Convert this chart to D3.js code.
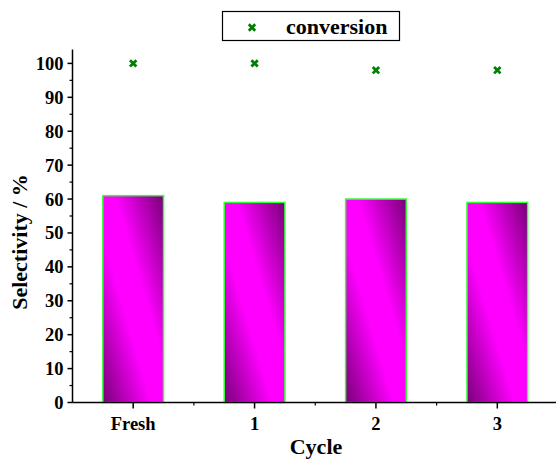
<!DOCTYPE html>
<html>
<head>
<meta charset="utf-8">
<script src="https://cdn.jsdelivr.net/npm/d3@7"></script>
<style>
  html, body { margin: 0; padding: 0; background: #fff; }
  svg { display: block; font-family: "Liberation Serif", "Times New Roman", serif; font-weight: bold; }
</style>
</head>
<body>
<svg id="chart" width="556" height="459"></svg>
<script>
// Catalyst recycling: selectivity bars and conversion markers per cycle
const categories = ["Fresh", "1", "2", "3"];
const selectivity = [61, 59, 60, 59];
const conversion = [100, 100, 98, 98];
const yTicks = [0, 10, 20, 30, 40, 50, 60, 70, 80, 90, 100];
const yMinorTicks = [5, 15, 25, 35, 45, 55, 65, 75, 85, 95];

const svg = d3.select("#chart");

const x = d3.scaleBand().domain(categories).range([72.5, 558]).padding(0);
const y = d3.scaleLinear().domain([0, 104.1]).range([402.5, 49.5]);

// bar fill: diagonal purple-magenta-purple gradient
const defs = svg.append("defs");
const grad = defs.append("linearGradient")
  .attr("id", "barGrad")
  .attr("x1", 0).attr("y1", 1).attr("x2", 1).attr("y2", 0);
[[0, "#780078"], [0.4, "#ff00ff"], [0.6, "#ff00ff"], [1, "#780078"]].forEach(([o, c]) =>
  grad.append("stop").attr("offset", o).attr("stop-color", c));

// bars
const bw = x.bandwidth() * 0.5;
svg.append("g").selectAll("rect")
  .data(categories)
  .join("rect")
  .attr("x", (d) => x(d) + (x.bandwidth() - bw) / 2)
  .attr("y", (d, i) => y(selectivity[i]))
  .attr("width", bw)
  .attr("height", (d, i) => y(0) - y(selectivity[i]))
  .attr("fill", "url(#barGrad)")
  .attr("stroke", "#33ff33")
  .attr("stroke-width", 1.5);

// conversion markers (bold x)
const cross = (cx, cy, s) => `M${cx - s},${cy - s}L${cx + s},${cy + s}M${cx - s},${cy + s}L${cx + s},${cy - s}`;
svg.append("g").selectAll("path")
  .data(categories)
  .join("path")
  .attr("d", (d, i) => cross(x(d) + x.bandwidth() / 2, y(conversion[i]), 3.2))
  .attr("stroke", "#008000")
  .attr("stroke-width", 2.8)
  .attr("fill", "none");

// y axis
const yAxis = svg.append("g").attr("transform", "translate(72.5,0)");
yAxis.append("line").attr("x1", 0).attr("x2", 0).attr("y1", y.range()[1]).attr("y2", y(0))
  .attr("stroke", "#000").attr("stroke-width", 1.5);
yAxis.selectAll("line.major").data(yTicks).join("line").attr("class", "major")
  .attr("x1", -5).attr("x2", 0).attr("y1", (d) => y(d)).attr("y2", (d) => y(d))
  .attr("stroke", "#000").attr("stroke-width", 1.5);
yAxis.selectAll("line.minor").data(yMinorTicks).join("line").attr("class", "minor")
  .attr("x1", -3).attr("x2", 0).attr("y1", (d) => y(d)).attr("y2", (d) => y(d))
  .attr("stroke", "#000").attr("stroke-width", 1.2);
yAxis.selectAll("text").data(yTicks).join("text")
  .attr("x", -9).attr("y", (d) => y(d)).attr("dy", "0.35em")
  .attr("text-anchor", "end").attr("font-size", 18.5).text((d) => d);

// x axis
const xAxis = svg.append("g").attr("transform", `translate(0,${y(0)})`);
xAxis.append("line").attr("x1", 72.5).attr("x2", 558).attr("y1", 0).attr("y2", 0)
  .attr("stroke", "#000").attr("stroke-width", 1.5);
xAxis.selectAll("line.major").data(categories).join("line").attr("class", "major")
  .attr("x1", (d) => x(d) + x.bandwidth() / 2).attr("x2", (d) => x(d) + x.bandwidth() / 2)
  .attr("y1", 0).attr("y2", 6).attr("stroke", "#000").attr("stroke-width", 1.5);
xAxis.selectAll("line.minor").data(categories.slice(1)).join("line").attr("class", "minor")
  .attr("x1", (d) => x(d)).attr("x2", (d) => x(d))
  .attr("y1", 0).attr("y2", 3).attr("stroke", "#000").attr("stroke-width", 1.2);
xAxis.selectAll("text").data(categories).join("text")
  .attr("x", (d) => x(d) + x.bandwidth() / 2).attr("y", 27.5)
  .attr("text-anchor", "middle").attr("font-size", 18.5).text((d) => d);

// axis titles
svg.append("text").attr("x", 316).attr("y", 454).attr("text-anchor", "middle")
  .attr("font-size", 22).text("Cycle");
svg.append("text").attr("transform", "translate(27,242) rotate(-90)")
  .attr("text-anchor", "middle").attr("font-size", 22).text("Selectivity / %");

// legend
const lg = svg.append("g");
lg.append("rect").attr("x", 222.5).attr("y", 11.5).attr("width", 177).attr("height", 29)
  .attr("fill", "#fff").attr("stroke", "#000").attr("stroke-width", 1.2);
lg.append("path").attr("d", cross(252, 27.5, 3.2)).attr("stroke", "#008000")
  .attr("stroke-width", 2.8).attr("fill", "none");
lg.append("text").attr("x", 286).attr("y", 34).attr("font-size", 22).text("conversion");
</script>
</body>
</html>
